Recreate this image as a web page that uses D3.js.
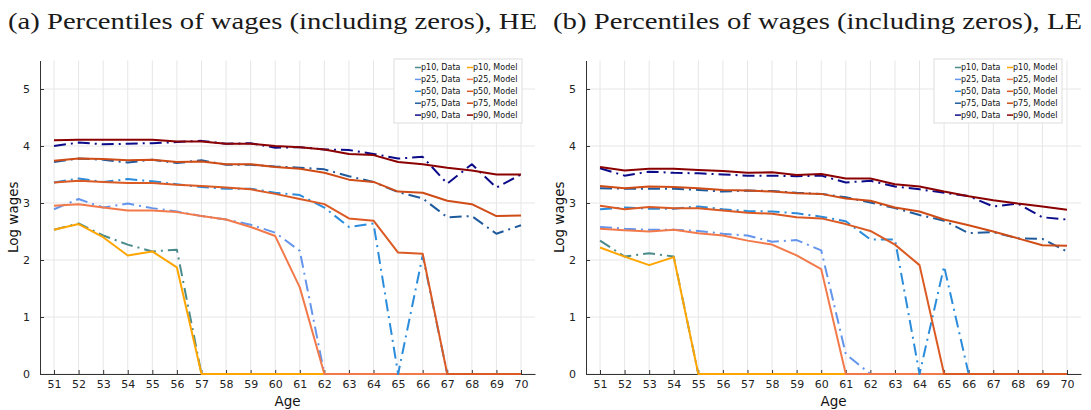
<!DOCTYPE html>
<html>
<head>
<meta charset="utf-8">
<script src="https://cdn.jsdelivr.net/npm/d3@7"></script>
<style>
  html, body { margin: 0; padding: 0; background: #fff; }
  svg { display: block; }
</style>
</head>
<body>
<svg id="chart" width="1091" height="410"></svg>
<script>
// ---------------- DATA ----------------
const ages = [51,52,53,54,55,56,57,58,59,60,61,62,63,64,65,66,67,68,69,70];
const yTicks = [0,1,2,3,4,5];
const percentiles = ["p10","p25","p50","p75","p90"];
const titles = ["(a) Percentiles of wages (including zeros), HE",
                "(b) Percentiles of wages (including zeros), LE"];
const yLabel = "Log wages";
const xLabel = "Age";

// Panel (a) HE
const a_p10_data  = [2.53,2.64,2.43,2.27,2.15,2.18,0,0,0,0,0,0,0,0,0,0,0,0,0,0];
const a_p10_model = [2.53,2.63,2.40,2.08,2.15,1.87,0,0,0,0,0,0,0,0,0,0,0,0,0,0];
const a_p25_data  = [2.89,3.07,2.92,2.99,2.91,2.85,2.77,2.71,2.62,2.48,2.16,0,0,0,0,0,0,0,0,0];
const a_p25_model = [2.95,2.98,2.92,2.87,2.87,2.84,2.77,2.71,2.58,2.42,1.52,0,0,0,0,0,0,0,0,0];
const a_p50_data  = [3.36,3.43,3.37,3.42,3.38,3.33,3.28,3.25,3.25,3.18,3.14,2.92,2.58,2.64,0,2.08,0,0,0,0];
const a_p50_model = [3.36,3.39,3.37,3.35,3.35,3.32,3.30,3.27,3.24,3.16,3.07,2.98,2.73,2.69,2.13,2.11,0,0,0,0];
const a_p75_data  = [3.72,3.78,3.76,3.71,3.76,3.70,3.75,3.67,3.67,3.64,3.62,3.59,3.47,3.37,3.19,3.08,2.75,2.77,2.46,2.61];
const a_p75_model = [3.74,3.78,3.77,3.75,3.76,3.72,3.73,3.68,3.68,3.63,3.60,3.53,3.41,3.37,3.20,3.18,3.04,2.98,2.77,2.78];
const a_p90_data  = [4.00,4.06,4.03,4.04,4.05,4.07,4.09,4.04,4.05,3.97,3.98,3.94,3.93,3.86,3.78,3.81,3.34,3.68,3.27,3.50];
const a_p90_model = [4.10,4.11,4.11,4.11,4.11,4.08,4.08,4.04,4.04,4.00,3.98,3.94,3.86,3.84,3.72,3.68,3.62,3.57,3.50,3.50];

// Panel (b) LE
const b_p10_data  = [2.34,2.06,2.12,2.06,0,0,0,0,0,0,0,0,0,0,0,0,0,0,0,0];
const b_p10_model = [2.22,2.06,1.91,2.05,0,0,0,0,0,0,0,0,0,0,0,0,0,0,0,0];
const b_p25_data  = [2.58,2.55,2.53,2.53,2.51,2.46,2.43,2.32,2.35,2.17,0.35,0,0,0,0,0,0,0,0,0];
const b_p25_model = [2.55,2.52,2.50,2.53,2.47,2.43,2.34,2.27,2.08,1.84,0,0,0,0,0,0,0,0,0,0];
const b_p50_data  = [2.89,2.92,2.90,2.90,2.94,2.89,2.86,2.85,2.82,2.76,2.68,2.36,2.36,0,1.89,0,0,0,0,0];
const b_p50_model = [2.95,2.89,2.93,2.91,2.91,2.87,2.83,2.81,2.75,2.73,2.63,2.51,2.27,1.91,0,0,0,0,0,0];
const b_p75_data  = [3.26,3.25,3.25,3.25,3.23,3.20,3.22,3.21,3.18,3.16,3.10,3.01,2.91,2.79,2.69,2.47,2.49,2.38,2.37,2.15];
const b_p75_model = [3.30,3.26,3.29,3.28,3.26,3.23,3.22,3.20,3.17,3.16,3.08,3.04,2.92,2.85,2.71,2.61,2.50,2.38,2.26,2.25];
const b_p90_data  = [3.61,3.48,3.55,3.53,3.52,3.50,3.48,3.48,3.47,3.48,3.36,3.39,3.29,3.24,3.18,3.12,2.94,2.99,2.75,2.71];
const b_p90_model = [3.63,3.57,3.60,3.60,3.58,3.56,3.53,3.54,3.49,3.51,3.43,3.43,3.33,3.29,3.20,3.12,3.05,2.99,2.94,2.88];

const dataColors  = ["#4b8b8b","#6495ed","#2b8cdb","#1f5b9c","#0c0c8a"];
const modelColors = ["#ffa500","#f27a4a","#db5a24","#cf4c16","#8b0000"];

// ---------------- LAYOUT ----------------
const panels = [
  { title: titles[0], titleX: 8, left: 40, right: 535, legendX: 394,
    data:  [a_p10_data, a_p25_data, a_p50_data, a_p75_data, a_p90_data],
    model: [a_p10_model, a_p25_model, a_p50_model, a_p75_model, a_p90_model] },
  { title: titles[1], titleX: 553, left: 586, right: 1081, legendX: 934,
    data:  [b_p10_data, b_p25_data, b_p50_data, b_p75_data, b_p90_data],
    model: [b_p10_model, b_p25_model, b_p50_model, b_p75_model, b_p90_model] }
];
const plotTop = 60.5, plotBottom = 374;
const svg = d3.select("#chart");
const sans = "DejaVu Sans, sans-serif";

panels.forEach(p => {
  const g = svg.append("g");
  const x = d3.scaleLinear().domain([50.43, 70.57]).range([p.left, p.right]);
  const y = d3.scaleLinear().domain([0, 5.5]).range([plotBottom, plotTop]);

  // title
  svg.append("text")
    .attr("x", p.titleX).attr("y", 29)
    .attr("font-family", "'Liberation Serif', 'Times New Roman', serif")
    .attr("font-size", 24)
    .attr("textLength", 529).attr("lengthAdjust", "spacingAndGlyphs")
    .attr("fill", "#1a1a1a")
    .text(p.title);

  // grid
  g.append("g").selectAll("line").data(ages).join("line")
    .attr("x1", d => x(d)).attr("x2", d => x(d))
    .attr("y1", plotTop).attr("y2", plotBottom)
    .attr("stroke", "#e6e6e6").attr("stroke-width", 1);
  g.append("g").selectAll("line").data(yTicks).join("line")
    .attr("x1", p.left).attr("x2", p.right)
    .attr("y1", d => y(d)).attr("y2", d => y(d))
    .attr("stroke", "#e6e6e6").attr("stroke-width", 1);

  // axes
  const xAxis = d3.axisBottom(x).tickValues(ages).tickFormat(d3.format("d"))
    .tickSizeInner(-4).tickSizeOuter(0).tickPadding(6);
  const yAxis = d3.axisLeft(y).tickValues(yTicks).tickFormat(d3.format("d"))
    .tickSizeInner(-4).tickSizeOuter(0).tickPadding(10);

  const gx = g.append("g").attr("transform", `translate(0,${plotBottom})`).call(xAxis);
  const gy = g.append("g").attr("transform", `translate(${p.left},0)`).call(yAxis);
  [gx, gy].forEach(a => {
    a.select(".domain").attr("stroke", "#333").attr("stroke-width", 1);
    a.selectAll(".tick line").attr("stroke", "#333");
    a.selectAll(".tick text").attr("font-family", sans).attr("font-size", 11).attr("fill", "#222");
  });

  // axis labels
  svg.append("text")
    .attr("x", (p.left + p.right) / 2).attr("y", 406)
    .attr("text-anchor", "middle")
    .attr("font-family", sans).attr("font-size", 13.5).attr("fill", "#111")
    .text(xLabel);
  svg.append("text")
    .attr("transform", `translate(${p.left - 22},${(plotTop + plotBottom) / 2}) rotate(-90)`)
    .attr("text-anchor", "middle")
    .attr("font-family", sans).attr("font-size", 13.5).attr("fill", "#111")
    .text(yLabel);

  // lines
  const line = d3.line().x((d, i) => x(ages[i])).y(d => y(d));
  const lg = g.append("g");
  percentiles.forEach((name, k) => {
    lg.append("path").datum(p.data[k])
      .attr("d", line).attr("fill", "none")
      .attr("stroke", dataColors[k]).attr("stroke-width", 2)
      .attr("stroke-dasharray", "12,5,2,5")
      .attr("stroke-linejoin", "round");
    lg.append("path").datum(p.model[k])
      .attr("d", line).attr("fill", "none")
      .attr("stroke", modelColors[k]).attr("stroke-width", 2)
      .attr("stroke-linejoin", "round");
  });

  // legend
  const lx = p.legendX, ly = 59, lw = 128, lh = 64;
  const leg = g.append("g");
  leg.append("rect").attr("x", lx).attr("y", ly).attr("width", lw).attr("height", lh)
    .attr("fill", "#fff").attr("stroke", "#dddddd").attr("stroke-width", 1);
  percentiles.forEach((name, k) => {
    const ry = 67.5 + k * 11.9;
    [[dataColors[k], name + ", Data", 21], [modelColors[k], name + ", Model", 73]].forEach(([c, t, off]) => {
      leg.append("line").attr("x1", lx + off).attr("x2", lx + off + 6)
        .attr("y1", ry).attr("y2", ry).attr("stroke", c).attr("stroke-width", 1.5);
      leg.append("text").attr("x", lx + off + 6).attr("y", ry).attr("dy", "0.35em")
        .attr("font-family", sans).attr("font-size", 8).attr("fill", "#111")
        .text(t);
    });
  });
});
</script>
</body>
</html>
